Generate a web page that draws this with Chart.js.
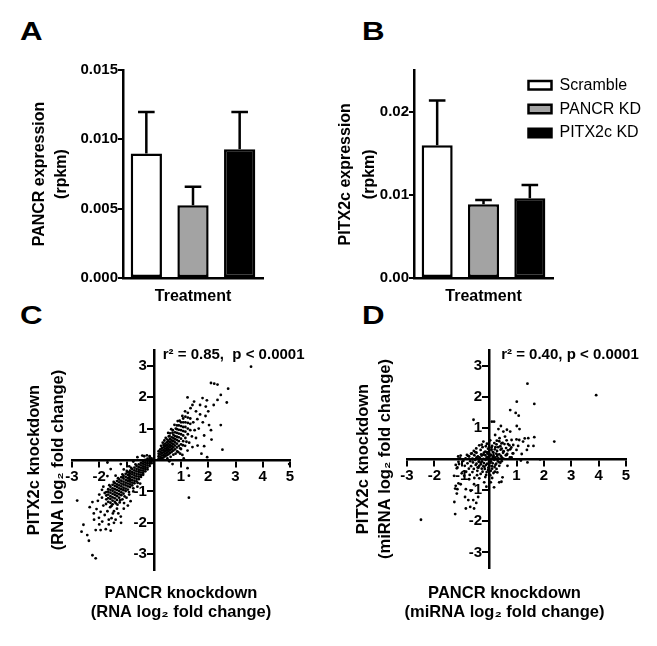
<!DOCTYPE html>
<html><head><meta charset="utf-8">
<script src="https://cdn.jsdelivr.net/npm/chart.js@4.4.1/dist/chart.umd.min.js"></script>
<style>
html,body{margin:0;padding:0;background:#fff;width:657px;height:646px;overflow:hidden;position:relative;}
canvas{position:absolute;}
.lbl{position:absolute;font-family:'Liberation Sans',Arial,sans-serif;font-weight:bold;font-size:25px;line-height:25px;color:#000;transform-origin:0 0;transform:scaleX(1.25);}
</style></head><body>
<div class="lbl" style="left:20px;top:19px">A</div>
<div class="lbl" style="left:362px;top:19px">B</div>
<div class="lbl" style="left:20px;top:303px">C</div>
<div class="lbl" style="left:362px;top:303px">D</div>
<canvas id="cA" width="330" height="320" style="left:0;top:0"></canvas>
<canvas id="cB" width="327" height="320" style="left:330px;top:0"></canvas>
<canvas id="cC" width="330" height="326" style="left:0;top:320px"></canvas>
<canvas id="cD" width="327" height="326" style="left:330px;top:320px"></canvas>
<script>
// ---------- data ----------
const treatments = ['Scramble', 'PANCR KD', 'PITX2c KD'];
const barColors = ['#ffffff', '#a3a3a3', '#000000'];
const pancrMean = [0.00897, 0.00524, 0.00928];
const pancrErrTop = [0.01197, 0.00658, 0.01197];
const pitx2cMean = [0.0160, 0.0089, 0.0096];
const pitx2cErrTop = [0.0214, 0.0094, 0.0112];
const pancrTicks = [0, 0.005, 0.010, 0.015];
const pitx2cTicks = [0, 0.01, 0.02];
const scatterXTicks = [-3, -2, -1, 0, 1, 2, 3, 4, 5];
const scatterYTicks = [-3, -2, -1, 0, 1, 2, 3];
const rnaStat = 'r\u00b2 = 0.85,  p < 0.0001';
const mirnaStat = 'r\u00b2 = 0.40, p < 0.0001';

// panel C: RNA log2 fold change (PANCR KD x, PITX2c KD y)
const rnaPoints = [
[-1.74,-1.02],[-1.74,-1.13],[-1.74,-1.25],
[-1.67,-0.93],[-1.67,-1.01],[-1.67,-1.1],[-1.67,-1.21],[-1.67,-1.33],
[-1.59,-0.85],[-1.59,-0.95],[-1.59,-1.04],[-1.59,-1.15],[-1.59,-1.24],[-1.59,-1.36],
[-1.51,-0.79],[-1.51,-0.9],[-1.51,-0.98],[-1.51,-1.08],[-1.51,-1.19],[-1.51,-1.29],[-1.51,-1.41],
[-1.43,-0.74],[-1.43,-0.83],[-1.43,-0.93],[-1.43,-1.03],[-1.43,-1.11],[-1.43,-1.22],[-1.43,-1.33],
[-1.35,-0.67],[-1.35,-0.78],[-1.35,-0.86],[-1.35,-0.96],[-1.35,-1.06],[-1.35,-1.15],[-1.35,-1.27],
[-1.27,-0.62],[-1.27,-0.71],[-1.27,-0.81],[-1.27,-0.9],[-1.27,-0.99],[-1.27,-1.09],[-1.27,-1.2],
[-1.19,-0.55],[-1.19,-0.66],[-1.19,-0.75],[-1.19,-0.84],[-1.19,-0.93],[-1.19,-1.03],[-1.19,-1.12],
[-1.11,-0.5],[-1.11,-0.59],[-1.11,-0.69],[-1.11,-0.78],[-1.11,-0.88],[-1.11,-0.96],[-1.11,-1.07],
[-1.03,-0.44],[-1.03,-0.54],[-1.03,-0.63],[-1.03,-0.72],[-1.03,-0.81],[-1.03,-0.91],[-1.03,-0.99],
[-0.95,-0.39],[-0.95,-0.48],[-0.95,-0.58],[-0.95,-0.67],[-0.95,-0.75],[-0.95,-0.84],[-0.95,-0.94],
[-0.87,-0.34],[-0.87,-0.43],[-0.87,-0.52],[-0.87,-0.6],[-0.87,-0.69],[-0.87,-0.78],[-0.87,-0.86],
[-0.79,-0.29],[-0.79,-0.38],[-0.79,-0.46],[-0.79,-0.55],[-0.79,-0.64],[-0.79,-0.72],[-0.79,-0.81],
[-0.71,-0.24],[-0.71,-0.33],[-0.71,-0.41],[-0.71,-0.49],[-0.71,-0.57],[-0.71,-0.66],[-0.71,-0.74],
[-0.63,-0.19],[-0.63,-0.28],[-0.63,-0.36],[-0.63,-0.44],[-0.63,-0.52],[-0.63,-0.6],[-0.63,-0.68],
[-0.55,-0.14],[-0.55,-0.23],[-0.55,-0.31],[-0.55,-0.38],[-0.55,-0.46],[-0.55,-0.53],[-0.55,-0.61],
[-0.47,-0.09],[-0.47,-0.17],[-0.47,-0.25],[-0.47,-0.33],[-0.47,-0.4],[-0.47,-0.48],[-0.47,-0.54],
[-0.39,-0.05],[-0.39,-0.12],[-0.39,-0.2],[-0.39,-0.27],[-0.39,-0.34],[-0.39,-0.41],[-0.39,-0.47],
[-0.31,0.0],[-0.31,-0.08],[-0.31,-0.15],[-0.31,-0.22],[-0.31,-0.29],[-0.31,-0.36],
[-0.23,0.04],[-0.23,-0.03],[-0.23,-0.1],[-0.23,-0.17],[-0.23,-0.24],[-0.23,-0.3],
[-0.15,0.06],[-0.15,0.0],[-0.15,-0.06],[-0.15,-0.12],[-0.15,-0.19],
[-0.08,0.05],[-0.08,0.0],[-0.08,-0.05],[-0.08,-0.1],
[-1.63,-0.8],[-1.47,-0.7],[-1.31,-0.58],[-1.15,-0.46],[-0.99,-0.35],[-0.83,-0.25],[-0.67,-0.14],
[-1.55,-1.46],[-1.39,-1.38],[-1.23,-1.28],[-1.07,-1.16],[-0.91,-1.02],[-0.75,-0.9],[-0.59,-0.73],
[-2.81,-1.29],[-2.25,-1.34],[-2.10,-1.56],[-2.58,-2.06],[-2.65,-2.28],[-2.44,-2.39],[-2.38,-2.57],
[-2.13,-2.23],[-1.95,-2.23],[-1.76,-2.2],[-1.58,-2.25],[-2.25,-3.03],[-2.13,-3.13],[-2.19,-1.9],
[-2.01,-1.84],[-1.70,-1.63],[-1.46,-1.63],[-1.33,-1.42],[-1.09,-1.37],[-0.85,-1.31],[-1.21,-1.8],
[-1.89,-1.96],[-1.65,-1.9],[-1.46,-2.0],[-1.70,-0.51],[-1.58,-0.29],[-1.21,-0.13],[-0.6,0.09],
[-0.42,0.14],[-1.9,-1.2],[-1.85,-1.45],[-2.0,-1.1],[-1.8,-1.05],[-1.95,-1.65],[-1.75,-1.4],
[-1.6,-1.5],[-1.5,-1.7],[-1.35,-1.55],[-1.25,-1.35],[-1.15,-1.25],[-1.0,-1.2],[-0.9,-1.1],
[-0.75,-1.0],[-0.6,-0.85],[-0.5,-0.75],[-1.85,-0.85],[-1.9,-0.95],[-2.05,-1.3],[-1.55,-1.85],
[-1.3,-1.7],[-1.1,-1.55],[-0.95,-1.45],[-1.4,-0.5],[-1.1,-0.3],[-0.9,-0.2],[-0.75,-0.05],
[-0.35,0.12],[-0.25,0.15],[-0.15,0.12],[-2.2,-1.7],[-2.35,-1.5],[-1.8,-1.75],[-1.65,-2.05],
[-1.4,-1.9],[-2.0,-2.05],[-1.2,-2.0],[-1.70,-0.08],
[0.18,0.05],[0.18,0.12],[0.18,0.2],[0.18,0.28],
[0.24,0.03],[0.24,0.1],[0.24,0.18],[0.24,0.26],[0.24,0.34],
[0.30,0.06],[0.30,0.14],[0.30,0.22],[0.30,0.3],[0.30,0.38],
[0.36,0.08],[0.36,0.16],[0.36,0.24],[0.36,0.32],[0.36,0.4],[0.36,0.48],
[0.42,0.12],[0.42,0.2],[0.42,0.28],[0.42,0.36],[0.42,0.44],[0.42,0.52],
[0.48,0.15],[0.48,0.23],[0.48,0.31],[0.48,0.39],[0.48,0.47],[0.48,0.56],
[0.54,0.18],[0.54,0.27],[0.54,0.35],[0.54,0.43],[0.54,0.52],[0.54,0.6],
[0.60,0.22],[0.60,0.31],[0.60,0.4],[0.60,0.48],[0.60,0.57],[0.60,0.66],
[0.66,0.26],[0.66,0.35],[0.66,0.44],[0.66,0.53],[0.66,0.62],[0.66,0.72],
[0.72,0.3],[0.72,0.4],[0.72,0.5],[0.72,0.6],[0.72,0.7],[0.72,0.8],
[0.78,0.34],[0.78,0.46],[0.78,0.56],[0.78,0.66],[0.78,0.76],[0.78,0.88],
[0.85,0.4],[0.85,0.52],[0.85,0.64],[0.85,0.74],[0.85,0.86],[0.85,0.98],
[0.92,0.45],[0.92,0.6],[0.92,0.72],[0.92,0.84],[0.92,0.96],[0.92,1.1],
[1.00,0.5],[1.00,0.68],[1.00,0.82],[1.00,0.95],[1.00,1.08],[1.00,1.2],
[1.08,0.6],[1.08,0.78],[1.08,0.92],[1.08,1.05],[1.08,1.2],[1.08,1.32],
[1.16,0.7],[1.16,0.9],[1.16,1.05],[1.16,1.2],[1.16,1.38],
[1.25,0.82],[1.25,1.0],[1.25,1.18],[1.25,1.35],[1.25,1.5],
[1.34,0.95],[1.34,1.15],[1.34,1.32],
[0.5,0.05],[0.62,0.1],[0.72,0.17],[0.86,0.27],[0.97,0.37],[1.07,0.47],[0.33,0.55],
[0.44,0.7],[0.53,0.86],[0.64,0.98],[0.76,1.12],[0.88,1.24],[1.2,0.58],[0.27,0.45],
[0.39,0.62],[0.58,0.76],[0.69,0.87],[0.81,1.0],[0.97,0.2],[0.57,-0.04],
[1.24,1.99],[1.48,1.86],[1.79,1.97],[2.10,2.45],[2.22,2.43],[2.34,2.4],[2.73,2.27],[2.46,2.07],
[2.34,1.91],[2.68,1.83],[1.91,1.7],[1.7,1.75],[2.03,1.11],[2.46,1.11],[2.10,0.95],[1.85,0.78],
[2.12,0.65],[2.52,0.33],[1.61,0.46],[1.85,0.44],[1.42,0.41],[1.24,0.3],[1.05,0.16],[0.69,-0.13],
[1.24,-0.26],[1.29,-1.2],[1.29,-0.5],[3.57,2.97],[4.97,-0.13],[1.96,0.09],[1.55,1.55],[1.6,1.3],
[1.45,1.2],[1.7,1.45],[1.5,0.95],[1.65,1.0],[1.4,0.75],[1.55,0.7],[1.3,0.55],[1.15,0.45],
[1.0,0.35],[0.9,0.25],[0.8,0.2],[1.8,1.2],[1.9,1.4],[2.0,1.55],[1.35,1.65],[1.15,1.55],
[1.05,1.4],[0.95,1.25],[1.42,1.75],[1.75,0.2],[1.1,0.05],[0.55,0.75],[0.5,0.65],[0.6,0.85],
[0.7,0.95],[0.85,1.1],[1.95,1.9],[2.2,1.75]
];

// panel D: miRNA log2 fold change (PANCR KD x, PITX2c KD y)
const mirnaPoints = [
[-0.21,0.56],[0.04,0.6],[0.19,0.51],[0.37,0.57],[0.49,0.52],[0.64,0.6],
[-0.36,0.44],[-0.08,0.49],[0.11,0.42],[0.27,0.47],[0.41,0.41],[0.56,0.48],[0.74,0.44],
[-0.47,0.34],[-0.24,0.38],[-0.04,0.33],[0.09,0.37],[0.21,0.31],[0.33,0.38],[0.46,0.33],[0.62,0.35],[0.81,0.37],
[-0.56,0.26],[-0.31,0.29],[-0.14,0.24],[0.01,0.29],[0.13,0.23],[0.29,0.26],[0.42,0.3],[0.53,0.25],[0.69,0.28],
[-0.66,0.17],[-0.46,0.2],[-0.29,0.15],[-0.19,0.2],[-0.06,0.17],[0.06,0.14],[0.16,0.2],[0.26,0.17],[0.37,0.15],[0.51,0.2],[0.66,0.16],[0.86,0.18],
[-0.77,0.1],[-0.54,0.12],[-0.41,0.08],[-0.27,0.11],[-0.14,0.12],[-0.04,0.07],[0.06,0.11],[0.16,0.12],[0.29,0.08],[0.43,0.1],[0.61,0.12],
[-0.86,0.02],[-0.61,0.01],[-0.46,0.05],[-0.33,0.02],[-0.21,0.0],[-0.09,0.05],[0.01,0.02],[0.11,0.0],[0.21,0.05],[0.34,0.02],[0.52,0.01],[0.76,0.05],
[-0.94,-0.06],[-0.69,-0.07],[-0.51,-0.03],[-0.37,-0.06],[-0.26,-0.08],[-0.13,-0.03],[-0.01,-0.06],[0.07,-0.08],[0.19,-0.03],[0.31,-0.06],[0.46,-0.07],
[-0.79,-0.14],[-0.59,-0.11],[-0.46,-0.15],[-0.31,-0.12],[-0.19,-0.13],[-0.07,-0.15],[0.03,-0.12],[0.13,-0.14],[0.26,-0.15],[0.41,-0.12],
[-0.89,-0.22],[-0.66,-0.23],[-0.49,-0.19],[-0.36,-0.22],[-0.21,-0.23],[-0.11,-0.19],[0.01,-0.22],[0.11,-0.23],[0.23,-0.19],[0.37,-0.22],
[-0.74,-0.31],[-0.56,-0.32],[-0.39,-0.28],[-0.27,-0.31],[-0.16,-0.32],[-0.03,-0.28],[0.11,-0.31],[0.27,-0.32],
[-0.84,-0.41],[-0.61,-0.42],[-0.43,-0.38],[-0.24,-0.41],[-0.09,-0.42],[0.06,-0.38],[0.21,-0.41],
[-0.71,-0.51],[-0.44,-0.52],[-0.31,-0.48],[-0.11,-0.51],[0.04,-0.52],
[-0.54,-0.61],[-0.36,-0.62],[-0.14,-0.58],[0.11,-0.61],
[-0.35,0.05],[-0.22,0.14],[-0.08,0.22],[0.03,-0.09],[0.14,0.06],[-0.3,-0.17],[-0.17,-0.25],
[-0.04,-0.35],[0.09,0.3],[0.2,-0.26],[-0.42,-0.27],[-0.12,0.41],[0.3,0.13],[-0.5,0.22],
[-0.6,-0.02],[0.23,0.38],[-0.27,0.46],[-0.38,-0.09],[0.35,-0.1],[0.16,-0.45],
[1.40,2.42],[3.91,2.05],[1.01,1.84],[1.65,1.77],[0.77,1.57],[0.97,1.48],[1.08,1.39],[0.10,1.2],
[0.18,1.2],[-0.57,1.26],[1.01,1.06],[1.11,0.96],[0.43,1.06],[2.38,0.56],[1.65,0.70],[1.43,0.67],
[0.77,0.88],[0.52,0.88],[1.86,-0.01],[1.62,0.42],[1.38,0.29],[1.19,0.16],[0.34,0.96],[0.65,0.94],
[0.22,0.77],[0.38,0.67],[0.58,0.72],[0.82,0.61],[1.0,0.63],[1.1,0.61],[1.24,0.56],[1.3,0.66],
[0.88,0.45],[0.69,0.48],[0.45,0.5],[0.28,0.59],[1.06,0.42],[1.43,0.42],[0.77,0.31],[1.0,0.29],
[0.52,0.24],[0.88,0.18],[0.64,0.13],[0.46,0.05],[0.82,0.05],[1.16,-0.05],[1.4,-0.11],[0.67,-0.22],
[0.3,-0.43],[0.49,-0.59],[0.37,-0.75],[0.18,-0.91],[0.06,-0.75],[-0.18,-0.75],[-0.55,-0.81],
[-0.73,-0.65],[-0.91,-0.54],[-1.16,-0.27],[-1.1,-0.16],[-1.04,0.11],[-1.22,-0.86],[-1.16,-0.97],
[-1.04,-0.81],[-0.85,-0.97],[-0.67,-1.02],[-1.28,-0.54],
[-2.49,-1.95],[-1.24,-1.77],[-1.27,-1.38],[-1.18,-1.11],[-1.24,-0.95],[-1.12,-0.78],[-0.76,-1.32],
[-0.69,-1.54],[-0.88,-1.22],[-0.47,-1.41],[-1.0,-0.46],[-1.18,-0.3],[-1.12,-0.09],[-1.06,0.02],
[-0.81,0.13],[-0.63,0.18],[-0.85,-1.59],[-0.55,-1.59],[-0.58,-1.32],[-0.40,-1.22],[-0.1,-0.89],
[0.45,-0.73],[-1.13,0.08],[-0.73,0.08],[-1.22,-0.19]
];

// ---------- setup ----------
const FAMILY = "'Liberation Sans', Arial, Helvetica, sans-serif";
Chart.defaults.font.family = FAMILY;
Chart.defaults.color = '#000';

const errorBars = {
  id: 'errorBars',
  afterDatasetsDraw(chart, args, opts) {
    const meta = chart.getDatasetMeta(0);
    const ys = chart.scales.y;
    const ctx = chart.ctx;
    ctx.save();
    ctx.strokeStyle = '#000';
    ctx.lineWidth = 2.5;
    opts.tops.forEach((v, i) => {
      const bar = meta.data[i];
      const yt = ys.getPixelForValue(v);
      ctx.beginPath();
      ctx.moveTo(bar.x, bar.y);
      ctx.lineTo(bar.x, yt);
      ctx.moveTo(bar.x - opts.cap, yt);
      ctx.lineTo(bar.x + opts.cap, yt);
      ctx.stroke();
    });
    ctx.restore();
  }
};

const legendShift = {
  id: 'legendShift',
  afterLayout(chart, args, opts) {
    const lg = chart.legend;
    if (!lg || opts.left === undefined) return;
    const w = lg.width, h = lg.height;
    lg.left = opts.left; lg.top = opts.top;
    lg.right = lg.left + w; lg.bottom = lg.top + h;
  }
};

// moves the labels of the crossing y axis to the left of its tick marks
const yLabelShift = {
  id: 'yLabelShift',
  beforeDraw(chart, args, opts) {
    const s = chart.scales.y;
    const items = s.getLabelItems(chart.chartArea);
    if (!items || items._shifted) return;
    items.forEach(it => {
      if (it.options && it.options.translation) it.options.translation[0] -= opts.dx;
    });
    items._shifted = true;
  }
};

const statLabel = {
  id: 'statLabel',
  afterDraw(chart, args, opts) {
    const {ctx, scales: {x, y}} = chart;
    ctx.save();
    ctx.font = 'bold 15px ' + FAMILY;
    ctx.fillStyle = '#000';
    ctx.textAlign = 'left';
    ctx.textBaseline = 'middle';
    ctx.fillText(opts.text, x.getPixelForValue(opts.x), y.getPixelForValue(opts.y));
    ctx.restore();
  }
};

function barChart(id, means, tops, ticks, maxV, decimals, title, cfg) {
  return new Chart(document.getElementById(id), {
    type: 'bar',
    data: {
      labels: treatments,
      datasets: [{
        data: means,
        backgroundColor: barColors,
        borderColor: '#000',
        borderWidth: 2.5,
        borderSkipped: false,
        barPercentage: 0.67,
        categoryPercentage: 1
      }]
    },
    options: {
      responsive: false, animation: false, devicePixelRatio: 1,
      layout: {padding: cfg.pad},
      plugins: {
        tooltip: {enabled: false},
        legend: cfg.legend ? {
          display: true, position: 'chartArea', align: 'start',
          labels: {
            boxWidth: 23, boxHeight: 8.5, padding: 7.8, color: '#000',
            font: {size: 16, weight: 'normal'},
            generateLabels: () => treatments.map((t, i) => ({
              text: t, fillStyle: barColors[i], strokeStyle: '#000', lineWidth: 2.5,
              hidden: false, index: i, fontColor: '#000'
            }))
          }
        } : {display: false},
        legendShift: cfg.legendPos || {},
        errorBars: {tops: tops, cap: 8.3}
      },
      scales: {
        x: {
          grid: {display: false, drawTicks: false},
          border: {color: '#000', width: 2.5},
          ticks: {display: false},
          title: {display: true, text: 'Treatment', font: {size: 16, weight: 'bold', lineHeight: '20px'}, padding: 0},
          afterFit: s => { s.height = cfg.xH; }
        },
        y: {
          min: 0, max: maxV,
          afterBuildTicks: s => { s.ticks = ticks.map(v => ({value: v})); },
          ticks: {font: {size: 15, weight: 'bold'}, padding: 0, callback: v => Number(v).toFixed(decimals)},
          grid: {drawOnChartArea: false, color: '#000', lineWidth: 2, tickLength: 5},
          border: {color: '#000', width: 2.5},
          title: {display: true, text: title, font: {size: 16, weight: 'bold', lineHeight: cfg.titleLH + 'px'}, padding: 0},
          afterFit: s => { s.width = cfg.yW; }
        }
      }
    },
    plugins: [errorBars, legendShift]
  });
}

function scatterChart(id, pts, stat, titleY, titleX, cfg) {
  const scales = {
    x: {
      type: 'linear', position: {y: 0}, min: -3, max: 5,
      afterBuildTicks: s => { s.ticks = scatterXTicks.map(v => ({value: v})); },
      ticks: {font: {size: 15, weight: 'bold'}, padding: 2, callback: v => v === 0 ? '' : String(v)},
      grid: {drawOnChartArea: false, color: '#000', lineWidth: 2, tickLength: 6},
      border: {color: '#000', width: 2.5}
    },
    y: {
      type: 'linear', position: {x: 0}, min: -3.5, max: 3.5,
      afterBuildTicks: s => { s.ticks = scatterYTicks.map(v => ({value: v})); },
      ticks: {font: {size: 15, weight: 'bold'}, padding: 0, callback: v => v === 0 ? '' : String(v)},
      grid: {drawOnChartArea: false, color: '#000', lineWidth: 2, tickLength: 6},
      border: {color: '#000', width: 2.5}
    },
    yT: {
      type: 'linear', position: 'left', min: 0, max: 1,
      ticks: {display: false}, grid: {display: false, drawTicks: false}, border: {display: false},
      title: {display: true, text: titleY, font: {size: 16.5, weight: 'bold', lineHeight: cfg.yLH + 'px'}, padding: 0},
      afterFit: s => { s.width = cfg.yTW; }
    },
    xT: {
      type: 'linear', position: 'bottom', min: 0, max: 1, fullSize: !!cfg.fullX,
      ticks: {display: false}, grid: {display: false, drawTicks: false}, border: {display: false},
      title: {display: true, text: titleX, font: {size: 16.5, weight: 'bold', lineHeight: '19px'}, padding: 0},
      afterFit: s => { s.height = cfg.xTH; }
    }
  };
  if (cfg.rightW) {
    scales.yR = {
      type: 'linear', position: 'right', min: 0, max: 1,
      ticks: {display: false}, grid: {display: false, drawTicks: false}, border: {display: false},
      afterFit: s => { s.width = cfg.rightW; }
    };
  }
  return new Chart(document.getElementById(id), {
    type: 'scatter',
    data: {
      datasets: [{
        data: pts.map(p => ({x: p[0], y: p[1]})),
        xAxisID: 'x', yAxisID: 'y',
        pointRadius: 1.4, pointHoverRadius: 1.4,
        pointBackgroundColor: '#000', pointBorderWidth: 0
      }]
    },
    options: {
      responsive: false, animation: false, devicePixelRatio: 1,
      layout: {padding: cfg.pad},
      plugins: {legend: {display: false}, tooltip: {enabled: false},
        statLabel: {text: stat, x: cfg.statX, y: cfg.statY},
        yLabelShift: {dx: 7}},
      scales: scales
    },
    plugins: [statLabel, yLabelShift]
  });
}

barChart('cA', pancrMean, pancrErrTop, pancrTicks, 0.015, 3, ['PANCR expression', '(rpkm)'],
  {pad: {left: 29, top: 70, right: 67, bottom: 13.3}, yW: 94, xH: 28.7, titleLH: 22});
barChart('cB', pitx2cMean, pitx2cErrTop, pitx2cTicks, 0.025, 2, ['PITX2c expression', '(rpkm)'],
  {pad: {left: 3.7, top: 70.5, right: 104, bottom: 13.3}, yW: 80.3, xH: 28.7, titleLH: 24,
   legend: true, legendPos: {left: 190.7, top: 69.5}});
scatterChart('cC', rnaPoints, rnaStat, ['PITX2c knockdown', '(RNA log\u2082 fold change)'],
  ['PANCR knockdown', '(RNA log\u2082 fold change)'],
  {pad: {left: 22, top: 30, right: 40, bottom: 24.5}, yTW: 50, yLH: 24, xTH: 51.5, statX: 0.33, statY: 3.35});
scatterChart('cD', mirnaPoints, mirnaStat, ['PITX2c knockdown', '(miRNA log\u2082 fold change)'],
  ['PANCR knockdown', '(miRNA log\u2082 fold change)'],
  {pad: {left: 22, top: 30, right: 0, bottom: 24.5}, yTW: 55, yLH: 22, xTH: 53.5, fullX: true, rightW: 31, statX: 0.44, statY: 3.35});
</script>
</body></html>
